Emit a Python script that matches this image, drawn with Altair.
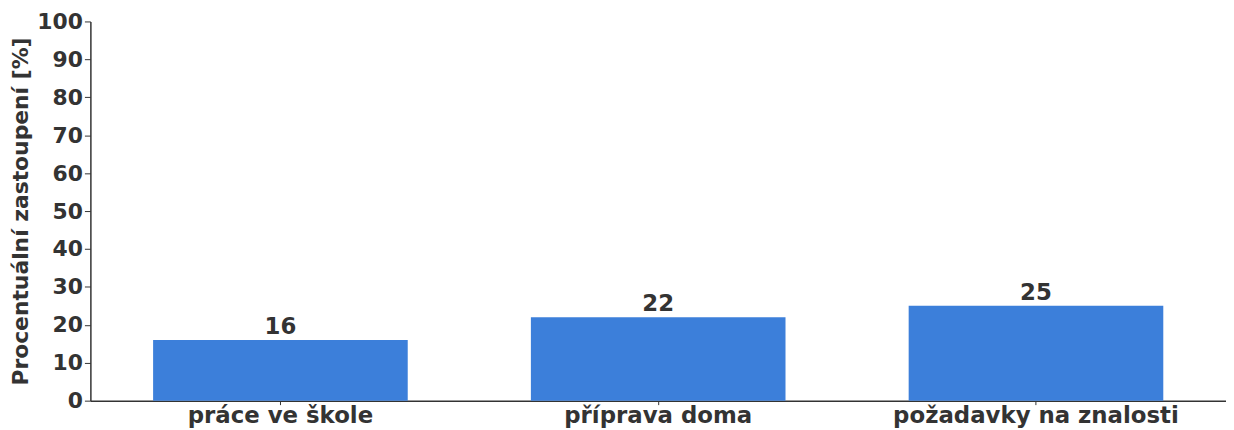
import altair as alt
import pandas as pd

categories = ["práce ve škole", "příprava doma", "požadavky na znalosti"]
values = [16, 22, 25]

df = pd.DataFrame({"kategorie": categories, "hodnota": values})

base = alt.Chart(df).encode(
    x=alt.X("kategorie:N", sort=categories,
            scale=alt.Scale(paddingInner=0.326, paddingOuter=0.166),
            axis=alt.Axis(title=None, labelAngle=0, labelFont="DejaVu Sans", labelLimit=0,
                          labelFontWeight="bold", labelFontSize=23, labelColor="#333333",
                          tickSize=4, tickColor="#333333", domainColor="#333333",
                          labelPadding=0, domainWidth=1.5)),
    y=alt.Y("hodnota:Q", scale=alt.Scale(domain=[0, 100]),
            axis=alt.Axis(title="Procentuální zastoupení [%]", values=list(range(0, 101, 10)),
                          grid=False, labelFont="DejaVu Sans", labelFontWeight="bold",
                          labelFontSize=22, labelColor="#333333",
                          titleFont="DejaVu Sans", titleFontWeight="bold", titleFontSize=22,
                          titleColor="#333333", titlePadding=4,
                          tickSize=6, tickColor="#333333", domainColor="#333333",
                          domainWidth=1.5, labelPadding=2)),
)

bars = base.mark_bar(color="#3c7fda")
labels = base.mark_text(dy=-13, font="DejaVu Sans", fontWeight="bold", fontSize=23,
                        color="#333333").encode(text="hodnota:Q")

chart = (bars + labels).properties(
    width=1144, height=382,
    padding={"left": 2, "top": 1, "right": 0, "bottom": 0},
).configure_view(stroke=None)

chart.save("out.html", embed_options={"renderer": "svg", "actions": False})
